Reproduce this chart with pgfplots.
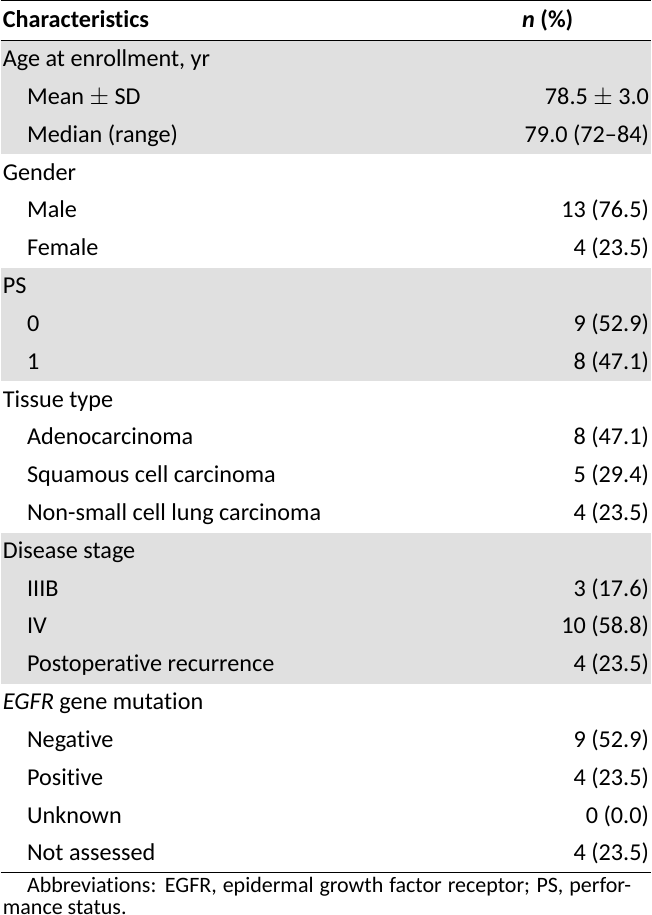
\documentclass[border=0pt]{standalone}
\usepackage{fontspec}
\setmainfont{Carlito}[Ligatures=NoCommon]
\usepackage{pgfplots}
\usepackage{pgfplotstable}
\pgfplotsset{compat=1.18}
\definecolor{band}{HTML}{E0E0E0}

% row index k -> baseline at 66.5 + 37.5*k (px from top)
\pgfplotstableread{
x k label
2 0 {Age at enrollment, yr}
26 1 {Mean $\pm$ SD}
26 2 {Median (range)}
2 3 {Gender}
26 4 {Male}
26 5 {Female}
2 6 {PS}
26 7 {0}
26 8 {1}
2 9 {Tissue type}
26 10 {Adenocarcinoma}
26 11 {Squamous cell carcinoma}
26 12 {Non-small cell lung carcinoma}
2 13 {Disease stage}
26 14 {IIIB}
26 15 {IV}
26 16 {Postoperative recurrence}
2 17 {\textit{EGFR} gene mutation}
26 18 {Negative}
26 19 {Positive}
26 20 {Unknown}
26 21 {Not assessed}
}\leftcol

\pgfplotstableread{
x k label
643 1 {78.5 $\pm$ 3.0}
643 2 {79.0 (72–84)}
643 4 {13 (76.5)}
643 5 {4 (23.5)}
643 7 {9 (52.9)}
643 8 {8 (47.1)}
643 10 {8 (47.1)}
643 11 {5 (29.4)}
643 12 {4 (23.5)}
643 14 {3 (17.6)}
643 15 {10 (58.8)}
643 16 {4 (23.5)}
643 18 {9 (52.9)}
643 19 {4 (23.5)}
643 20 {0 (0.0)}
643 21 {4 (23.5)}
}\rightcol

\begin{document}
\begin{tikzpicture}
\begin{axis}[
  width=645bp, height=915bp, scale only axis,
  xmin=0, xmax=645, ymin=0, ymax=915, y dir=reverse,
  hide axis, clip=false,
  cell/.style={draw=none, mark=none, nodes near coords, point meta=explicit symbolic,
    nodes near coords style={inner sep=0pt, font=\fontsize{24bp}{28bp}\selectfont, text=black}},
]
  % shaded groups
  \addplot[fill=band, draw=none] coordinates {(0,41) (645,41) (645,153.5) (0,153.5)} -- cycle;
  \addplot[fill=band, draw=none] coordinates {(0,266) (645,266) (645,378.5) (0,378.5)} -- cycle;
  \addplot[fill=band, draw=none] coordinates {(0,528.5) (645,528.5) (645,678.5) (0,678.5)} -- cycle;
  % rules
  \addplot[black, line width=1.3bp] coordinates {(0,1) (645,1)};
  \addplot[black, line width=1bp] coordinates {(0,41) (645,41)};
  \addplot[black, line width=1bp] coordinates {(0,866) (645,866)};
  % header
  \node[anchor=base west, inner sep=0pt, font=\fontsize{24bp}{28bp}\selectfont\bfseries]
    at (axis cs:2,28) {Characteristics};
  \node[anchor=base west, inner sep=0pt, font=\fontsize{24bp}{28bp}\selectfont\bfseries]
    at (axis cs:517,28) {\textit{n} (\%)};
  % body
  \addplot[cell, nodes near coords style={anchor=base west}]
    table[x=x, y expr=66.5+37.5*\thisrow{k}, meta=label] {\leftcol};
  \addplot[cell, nodes near coords style={anchor=base east}]
    table[x=x, y expr=66.5+37.5*\thisrow{k}, meta=label] {\rightcol};
  % footnote
  \node[anchor=base west, inner sep=0pt, font=\fontsize{21.8bp}{24bp}\selectfont]
    at (axis cs:26,885) {\makebox[599bp][s]{Abbreviations: EGFR, epidermal growth factor receptor; PS, perfor-}};
  \node[anchor=base west, inner sep=0pt, font=\fontsize{21.8bp}{24bp}\selectfont]
    at (axis cs:2,907.5) {mance status.};
\end{axis}
\end{tikzpicture}
\end{document}
